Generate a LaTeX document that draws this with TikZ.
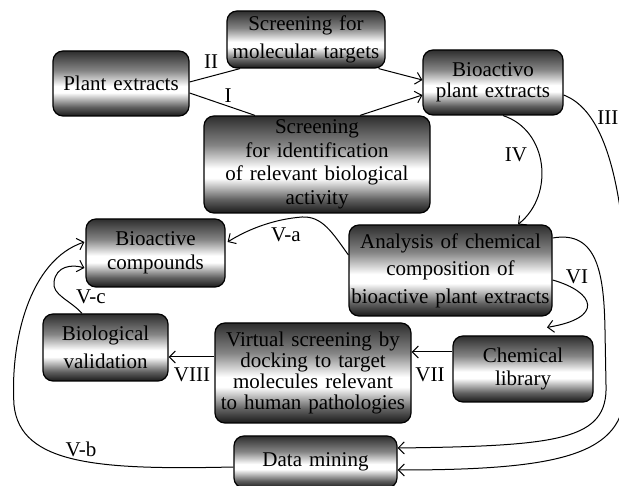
\documentclass[tikz,border=0pt]{standalone}
\usepackage{fontspec}
\setmainfont{Liberation Serif}
\usetikzlibrary{arrows.meta}
\pgfdeclareverticalshading{metal}{100bp}{color(0bp)=(black!90); color(25bp)=(black!90); color(32bp)=(black!62); color(43bp)=(white); color(48bp)=(white); color(60bp)=(black!48); color(75bp)=(black!82); color(100bp)=(black!82)}
\tikzset{
  box/.style={draw=black, line width=1.2pt, rounded corners=10pt, shade, shading=metal,
    inner sep=0pt, align=center, font=\fontsize{21}{23}\selectfont},
  conn/.style={line width=1pt, black},
  arr/.style={conn, -{Straight Barb[length=6pt,width=12pt,line width=1pt]}},
  lbl/.style={inner sep=0pt, font=\fontsize{21}{23}\selectfont}
}
\begin{document}
\begin{tikzpicture}[x=1pt,y=-1pt]
\useasboundingbox (0,0) rectangle (619,486);
\fill[white] (0,0) rectangle (619,486);
% boxes
\node[box, text width=136pt, minimum height=65pt] (plant) at (121,83.5) {Plant extracts};
\node[box, text width=158pt, minimum height=57pt, font=\fontsize{21}{28}\selectfont] (smt) at (306,39.5) {Screening for\\molecular targets};
\node[box, text width=140pt, minimum height=65pt, font=\fontsize{21}{21}\selectfont] (bio) at (493,82.5) {Bioactivo\\plant extracts};
\node[box, text width=226pt, minimum height=97pt, font=\fontsize{21}{23.5}\selectfont] (sid) at (317,164.5) {Screening\\for identification\\of relevant biological\\activity};
\node[box, text width=139pt, minimum height=68pt, font=\fontsize{21}{24}\selectfont] (bcomp) at (155.5,253) {Bioactive\\compounds};
\node[box, text width=203pt, minimum height=91pt, font=\fontsize{21}{27.5}\selectfont] (anal) at (450.5,270.5) {Analysis of chemical\\composition of\\bioactive plant extracts};
\node[box, text width=125pt, minimum height=67pt, font=\fontsize{21}{28}\selectfont] (bval) at (105.5,347.5) {Biological\\validation};
\node[box, text width=196pt, minimum height=100pt, font=\fontsize{21}{21.3}\selectfont] (vs) at (313,373) {Virtual screening by\\docking to target\\molecules relevant\\to human pathologies};
\node[box, text width=140pt, minimum height=66pt, font=\fontsize{21}{23}\selectfont] (chem) at (523,369) {Chemical\\library};
\node[box, text width=163pt, minimum height=52pt] (dm) at (315.5,462) {Data mining};
% connectors
\draw[conn] ([yshift=1.5pt]plant.east) -- ([xshift=-66pt]smt.south);
\draw[conn] ([yshift=-9.5pt]plant.east) -- ([xshift=-62pt]sid.north);
\draw[arr] ([xshift=-7pt]smt.south east) -- ([yshift=2.5pt]bio.west);
\draw[arr] ([xshift=43pt]sid.north) -- ([yshift=-12.5pt]bio.west);
\draw[arr] ([xshift=10pt]bio.south) .. controls (548,130) and (555,195) .. ([xshift=67.5pt]anal.north);
\draw[arr] ([yshift=-12.5pt]bio.east) .. controls (598,108) and (616,160) .. (624,240) -- (625,390) .. controls (624,455) and (560,470) .. ([yshift=-8pt]dm.east);
\draw[arr] ([yshift=32.5pt]anal.east) .. controls (598,230) and (604,275) .. (605,330) -- (606,385) .. controls (608,440) and (560,446) .. ([yshift=14pt]dm.east);
\draw[arr] ([yshift=-9.5pt]anal.east) .. controls (595,292) and (605,318) .. ([xshift=24pt,yshift=8pt]chem.north);
\draw[arr] ([yshift=15.5pt]anal.west) .. controls (332,232) and (322,216) .. (302,217) .. controls (276,219) and (250,228) .. ([xshift=2pt,yshift=11pt]bcomp.east);
\draw[arr] ([yshift=17pt]chem.west) -- ([yshift=21pt]vs.east);
\draw[arr] ([yshift=16pt]vs.west) -- ([yshift=-9.5pt]bval.east);
\draw[arr] ([xshift=-23.5pt]bval.north) .. controls (70,300) and (52,295) .. (54,282) .. controls (56,266) and (72,264) .. ([xshift=-1pt,yshift=-15pt]bcomp.west);
\draw[arr] ([yshift=-5pt]dm.west) .. controls (100,470) and (20,465) .. (14,405) .. controls (10,340) and (30,260) .. ([xshift=-1pt,yshift=11pt]bcomp.west);
% labels
\node[lbl] (lII) at (211,62) {II};
\node[lbl] (lI) at (228,96) {I};
\node[lbl, anchor=east] (lIII) at (618.5,118) {III};
\node[lbl] (lIV) at (516,155) {IV};
\node[lbl] (lVa) at (286,235) {V-a};
\node[lbl] (lVI) at (577,277) {VI};
\node[lbl] (lVc) at (91,297) {V-c};
\node[lbl] (lVII) at (430,375) {VII};
\node[lbl] (lVIII) at (192,375) {VIII};
\node[lbl] (lVb) at (81,449) {V-b};
\end{tikzpicture}
\end{document}
